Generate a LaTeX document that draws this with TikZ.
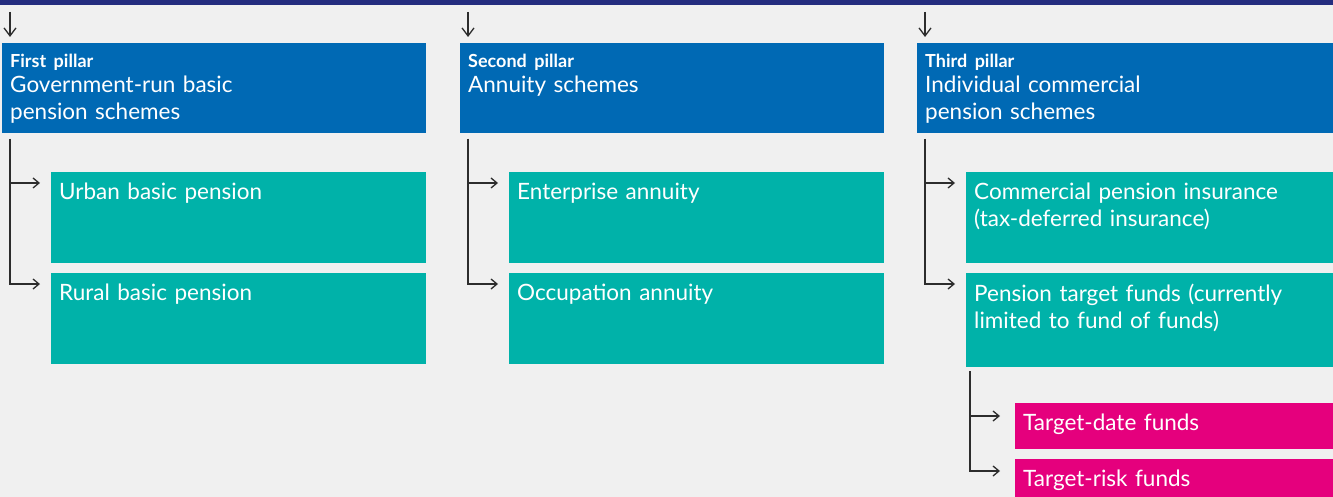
\documentclass[tikz,border=0pt]{standalone}
\usepackage{fontspec}
\setmainfont{Lato}
\usetikzlibrary{calc,positioning,arrows.meta}

\definecolor{barnavy}{RGB}{36,45,127}
\definecolor{pillarblue}{RGB}{0,105,180}
\definecolor{planteal}{RGB}{0,178,169}
\definecolor{fundpink}{RGB}{229,0,125}
\definecolor{paper}{RGB}{240,240,240}
\definecolor{linegray}{RGB}{45,45,45}

\newcommand{\pillarname}[1]{{\fontsize{18}{18}\selectfont\bfseries #1}\\[-2pt]}

\begin{document}
\begin{tikzpicture}[x=1pt,y=-1pt,>={Straight Barb[length=6pt,width=10pt]},
    pillar/.style={anchor=north west,fill=pillarblue,inner sep=0pt,minimum width=424pt,minimum height=90pt},
    plan/.style={anchor=north west,fill=planteal,inner sep=0pt,minimum width=375pt,minimum height=91pt},
    fund/.style={anchor=north west,fill=fundpink,inner sep=0pt,minimum width=318pt,minimum height=46pt},
    txt/.style={anchor=north west,text=white,align=left,text width=400pt,inner xsep=8pt,inner ysep=10.5pt,
      font=\fontsize{22.5}{27}\selectfont},
    link/.style={->,draw=linegray,line width=1.3pt,shorten >=11pt}]
  \useasboundingbox (0,0) rectangle (1333,497);
  \clip (0,0) rectangle (1333,497);
  \fill[paper] (0,0) rectangle (1333,497);
  \fill[barnavy] (0,0) rectangle (1333,5.5);

  % pillars
  \node[pillar] (p1) at (2,43) {};
  \node[pillar] (p2) at (460,43) {};
  \node[pillar] (p3) at (917,43) {};
  \node[txt] at (p1.north west) {\pillarname{First pillar}Government-run basic\\pension schemes};
  \node[txt] at (p2.north west) {\pillarname{Second pillar}Annuity schemes};
  \node[txt] at (p3.north west) {\pillarname{Third pillar}Individual commercial\\pension schemes};

  % schemes under each pillar
  \node[plan] (urban) at (51,172) {};
  \node[plan] (rural) at (51,273) {};
  \node[plan] (enterprise) at (509,172) {};
  \node[plan] (occupation) at (509,273) {};
  \node[plan] (insurance) at (966,172) {};
  \node[plan,minimum height=94pt] (target) at (966,273) {};
  \node[txt] at (urban.north west) {Urban basic pension};
  \node[txt] at (rural.north west) {Rural basic pension};
  \node[txt] at (enterprise.north west) {Enterprise annuity};
  \node[txt] at (occupation.north west) {Occupation annuity};
  \node[txt] at (insurance.north west) {Commercial pension insurance\\(tax-deferred insurance)};
  \node[txt] at (target.north west) {Pension target funds (currently\\limited to fund of funds)};

  % target funds
  \node[fund] (tdf) at (1015,403) {};
  \node[fund] (trf) at (1015,459) {};
  \node[txt] at (tdf.north west) {Target-date funds};
  \node[txt] at (trf.north west) {Target-risk funds};

  % arrows into the pillars
  \coordinate (s1) at (10,12);
  \coordinate (s2) at (468,12);
  \coordinate (s3) at (925,12);
  \draw[link,shorten >=6pt,>={Straight Barb[length=8pt,width=12pt]}] (s1) -- (s1 |- p1.north);
  \draw[link,shorten >=6pt,>={Straight Barb[length=8pt,width=12pt]}] (s2) -- (s2 |- p2.north);
  \draw[link,shorten >=6pt,>={Straight Barb[length=8pt,width=12pt]}] (s3) -- (s3 |- p3.north);

  % branches
  \coordinate (b1) at (10,139);
  \coordinate (b2) at (468,139);
  \coordinate (b3) at (925,139);
  \coordinate (b4) at (970,371);
  \draw[link] (b1) |- ($(urban.north west)+(0,11)$);
  \draw[link] (b1) |- ($(rural.north west)+(0,11)$);
  \draw[link] (b2) |- ($(enterprise.north west)+(0,11)$);
  \draw[link] (b2) |- ($(occupation.north west)+(0,11)$);
  \draw[link] (b3) |- ($(insurance.north west)+(0,11)$);
  \draw[link] (b3) |- ($(target.north west)+(0,11)$);
  \draw[link,shorten >=15pt] (b4) |- ($(tdf.north west)+(0,13)$);
  \draw[link,shorten >=15pt] (b4) |- ($(trf.north west)+(0,12)$);
\end{tikzpicture}
\end{document}
